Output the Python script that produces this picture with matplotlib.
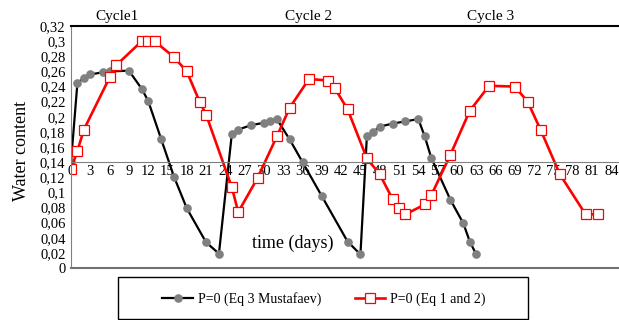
import matplotlib.pyplot as plt
from matplotlib.patches import Rectangle
from matplotlib.ticker import FuncFormatter

# Data (days, water content)
mustafaev_days = [0, 1, 2, 3, 5, 6, 9, 11, 12, 14, 16, 18, 21, 23,
                  25, 26, 28, 30, 31, 32, 34, 36, 39, 43, 45,
                  46, 47, 48, 50, 52, 54, 55, 56, 59, 61, 62, 63]
mustafaev_wc = [0.14, 0.245, 0.251, 0.256, 0.259, 0.260, 0.261, 0.237, 0.221, 0.171, 0.121, 0.079, 0.034, 0.019,
                0.177, 0.183, 0.189, 0.192, 0.195, 0.197, 0.170, 0.140, 0.095, 0.035, 0.018,
                0.174, 0.180, 0.187, 0.191, 0.194, 0.197, 0.174, 0.146, 0.090, 0.059, 0.035, 0.018]

eq12_days = [0, 1, 2, 6, 7, 11, 12, 13, 16, 18, 20, 21, 25, 26, 29, 32, 34, 37, 40, 41, 43,
             46, 48, 50, 51, 52, 55, 56, 59, 62, 65, 69, 71, 73, 76, 80, 82]
eq12_wc = [0.131, 0.155, 0.183, 0.252, 0.268, 0.300, 0.300, 0.300, 0.279, 0.260, 0.220, 0.203,
           0.107, 0.074, 0.119, 0.174, 0.212, 0.250, 0.248, 0.238, 0.210,
           0.145, 0.124, 0.091, 0.079, 0.071, 0.084, 0.096, 0.150, 0.208, 0.241, 0.240,
           0.220, 0.183, 0.124, 0.071, 0.071]

cycle_labels = ['Cycle1', 'Cycle 2', 'Cycle 3']
cycle_pos = [7.1, 36.9, 65.3]
x_ticks = list(range(0, 85, 3))
y_ticks = [i * 0.02 for i in range(17)]

plt.rcParams['font.family'] = ['Liberation Serif', 'DejaVu Serif']

fig = plt.figure(figsize=(6.19, 3.2), dpi=100)
ax = fig.add_axes([0.1147, 0.1625, 0.8853, 0.756])

# Series
ax.plot(mustafaev_days, mustafaev_wc, color='black', lw=1.6, marker='o', markersize=5.2,
        markerfacecolor='#808080', markeredgecolor='#808080', label='P=0 (Eq 3 Mustafaev)')
ax.plot(eq12_days, eq12_wc, color='#ff0000', lw=1.9, marker='s', markersize=6.5,
        markerfacecolor='white', markeredgecolor='#ff0000', markeredgewidth=0.9,
        label='P=0 (Eq 1 and 2)')

# Axes: x axis crosses at 0.14
ax.set_xlim(0, 85.2)
ax.set_ylim(0, 0.32)
ax.spines['bottom'].set_position(('data', 0.14))
ax.spines['bottom'].set_color('#808080')
ax.spines['left'].set_color('#808080')
ax.spines['right'].set_visible(False)
ax.spines['top'].set_color('black')
ax.spines['top'].set_linewidth(1.5)
ax.axhline(0, color='#707070', lw=1.5, clip_on=False)

ax.set_xticks(x_ticks)
ax.set_yticks(y_ticks)
ax.yaxis.set_major_formatter(FuncFormatter(lambda v, p: f'{round(v, 2):g}'.replace('.', ',')))
ax.tick_params(axis='both', length=0, labelsize=10.5)
ax.tick_params(axis='y', pad=4)
ax.tick_params(axis='x', pad=2)

# Text
for lab, xp in zip(cycle_labels, cycle_pos):
    ax.text(xp, 1.041, lab, transform=ax.get_xaxis_transform(), ha='center', va='center', fontsize=11)
ax.text(34.5, 0.032, 'time (days)', ha='center', va='center', fontsize=13)
fig.text(22 / 619, 1 - 151 / 320, 'Water content', rotation=90, ha='center', va='center', fontsize=13)

# Legend with box drawn by hand
fig.legend(loc='center', bbox_to_anchor=(324 / 619, 1 - 299 / 320), ncol=2, frameon=False,
           fontsize=10, handlelength=2.2, handletextpad=0.35, columnspacing=2.4)
fig.patches.append(Rectangle((118 / 619, 1 / 320), 410 / 619, 42 / 320, transform=fig.transFigure,
                             fill=False, edgecolor='black', lw=1))

plt.savefig('out.png', dpi=100)
